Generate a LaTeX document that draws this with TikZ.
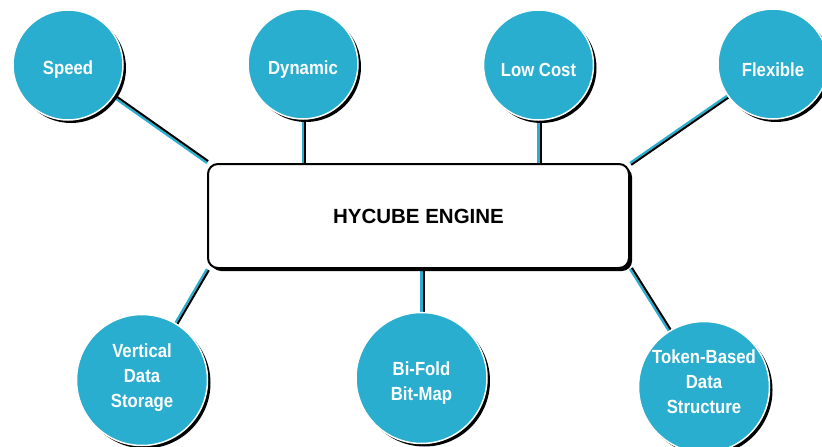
\documentclass[tikz,border=0pt]{standalone}
\usepackage{fontspec}
\setmainfont{Liberation Sans}
\newfontfamily\narrowfont[FakeStretch=0.88]{Liberation Sans}
\usetikzlibrary{shadows,backgrounds}
\definecolor{hcyan}{RGB}{41,174,207}
\begin{document}
\begin{tikzpicture}[x=1pt,y=-1pt,
  bubble/.style={circle, fill=hcyan, draw=white, line width=1.5pt, inner sep=0pt,
    drop shadow={shadow xshift=3pt, shadow yshift=-3pt, fill=black, opacity=1}},
  smallb/.style={bubble, minimum size=110pt},
  bigb/.style={bubble, minimum size=131pt},
  lbl/.style={text=white, align=center, inner sep=0pt,
    font=\narrowfont\bfseries\fontsize{19}{25}\selectfont},
  engine/.style={draw=black, fill=white, line width=2pt, rounded corners=10pt,
    minimum width=421pt, minimum height=104pt, font=\bfseries\fontsize{20.5}{24}\selectfont,
    drop shadow={shadow xshift=3pt, shadow yshift=-3pt, fill=black, opacity=1}},
  cline/.style={draw=hcyan, line width=2.3pt},
  bline/.style={draw=black, line width=2pt}
]
\useasboundingbox (0,0) rectangle (822,447);

\node[engine] (eng) at (418.5,216) {HYCUBE ENGINE};

\node[smallb] (sp) at (68,65) {};
\node[smallb] (dy) at (303,64) {};
\node[smallb] (lc) at (538.5,65) {};
\node[smallb] (fx) at (773,64) {};

\node[bigb] (vd) at (142,380) {};
\node[bigb] (bf) at (421.5,378) {};
\node[bigb] (tb) at (704,387) {};

\node[lbl] (spt) at (68,70) {Speed};
\node[lbl] (dyt) at (303,70) {Dynamic};
\node[lbl] (lct) at (538.5,70) {Low Cost};
\node[lbl] (fxt) at (773,70) {Flexible};
\node[lbl] (vdt) at (142,378) {Vertical\\Data\\Storage};
\node[lbl] (bft) at (421.5,383) {Bi-Fold\\Bit-Map};
\node[lbl] (tbt) at (704,382) {Token-Based\\Data\\Structure};

\begin{scope}[on background layer]
  \draw[cline] (sp) -- (eng.north west);
  \draw[bline, transform canvas={xshift=1.2pt,yshift=1.9pt}] (sp) -- (eng.north west);

  \coordinate (dyend) at (eng.north -| dy);
  \draw[cline] (dy) -- (dyend);
  \draw[bline, transform canvas={xshift=2.3pt}] (dy) -- (dyend);

  \coordinate (lcend) at (eng.north -| lc);
  \draw[cline] (lc) -- (lcend);
  \draw[bline, transform canvas={xshift=2.3pt}] (lc) -- (lcend);

  \draw[cline] (fx) -- (eng.north east);
  \draw[bline, transform canvas={xshift=1.2pt,yshift=-1.9pt}] (fx) -- (eng.north east);

  \draw[cline] (vd) -- (eng.south west);
  \draw[bline, transform canvas={xshift=1.9pt,yshift=-1.2pt}] (vd) -- (eng.south west);

  \coordinate (bfend) at (eng.south -| bf);
  \draw[cline] (bf) -- (bfend);
  \draw[bline, transform canvas={xshift=2.3pt}] (bf) -- (bfend);

  \draw[cline] (tb) -- (eng.south east);
  \draw[bline, transform canvas={xshift=1.9pt,yshift=1.2pt}] (tb) -- (eng.south east);
\end{scope}
\end{tikzpicture}
\end{document}
